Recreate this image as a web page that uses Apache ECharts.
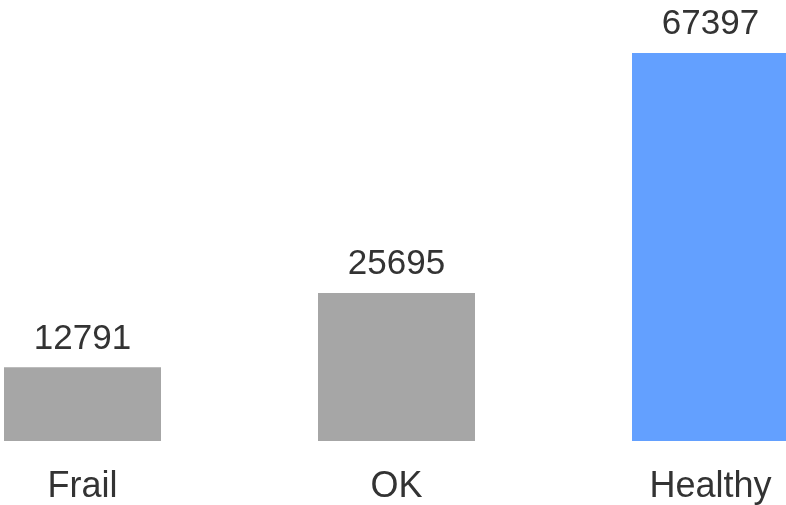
<!DOCTYPE html>
<html><head><meta charset="utf-8">
<script src="https://cdn.jsdelivr.net/npm/echarts@6/dist/echarts.min.js"></script>
<style>html,body{margin:0;padding:0;background:#fff}#c{width:786px;height:505px}</style>
</head><body><div id="c"></div>
<script>
const categories = ['Frail', 'OK', 'Healthy'];
const values = [12791, 25695, 67397];
const barColors = ['#a6a6a6', '#a6a6a6', '#63a0ff'];

const chart = echarts.init(document.getElementById('c'), null, {renderer: 'canvas'});
chart.setOption({
  animation: false,
  grid: {left: 82.5, right: 75.5, top: 53, bottom: 63, containLabel: false},
  xAxis: {
    type: 'category', data: categories, boundaryGap: false,
    axisLine: {show: false}, axisTick: {show: false}, splitLine: {show: false},
    axisLabel: {fontFamily: 'Arial, "Liberation Sans", sans-serif', fontSize: 36, color: '#333', margin: 28}
  },
  yAxis: {type: 'value', min: 0, max: 67397, show: false},
  series: [{
    type: 'bar', barWidth: 157,
    data: values.map((v, i) => ({value: v, itemStyle: {color: barColors[i]}})),
    label: {show: true, position: 'top', distance: 11, fontFamily: 'Arial, "Liberation Sans", sans-serif', fontSize: 35, color: '#333'}
  }]
});
</script></body></html>
